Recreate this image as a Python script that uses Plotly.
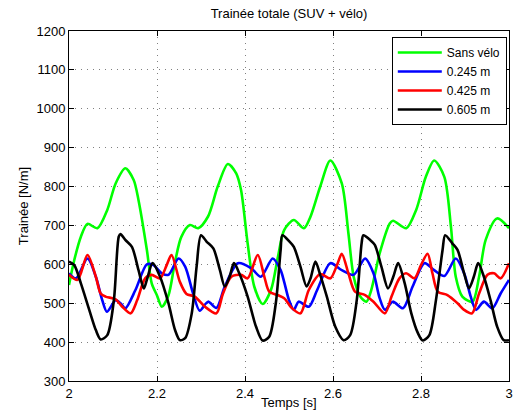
import plotly.graph_objects as go

# ---- data ----
t_green = [2.000, 2.012, 2.027, 2.042, 2.0645, 2.087, 2.106, 2.128, 2.147, 2.158, 2.177, 2.188,
           2.200, 2.211, 2.226, 2.240, 2.255, 2.275, 2.2935, 2.316, 2.338, 2.361, 2.380, 2.391,
           2.406, 2.421, 2.440, 2.459, 2.475, 2.489, 2.511, 2.534, 2.549, 2.571, 2.594, 2.620,
           2.635, 2.647, 2.662, 2.676, 2.687, 2.706, 2.729, 2.7365, 2.7665, 2.789, 2.811, 2.830,
           2.853, 2.868, 2.879, 2.894, 2.917, 2.932, 2.947, 2.973, 3.000]
v_green = [547, 611, 671, 704, 693, 740, 808, 847, 817, 765, 637, 551,
           520, 491, 520, 600, 670, 701, 693, 723, 800, 858, 834, 791,
           654, 543, 498, 534, 620, 688, 714, 693, 723, 800, 867, 808,
           680, 568, 517, 504, 534, 628, 705, 712, 693, 740, 825, 867,
           825, 697, 568, 517, 504, 568, 663, 718, 693]

t_blue = [2.000, 2.016, 2.042, 2.061, 2.075, 2.086, 2.100, 2.106, 2.117, 2.128, 2.151, 2.177,
          2.192, 2.211, 2.226, 2.249, 2.264, 2.282, 2.297, 2.316, 2.335, 2.354, 2.384, 2.414,
          2.436, 2.463, 2.481, 2.489, 2.500, 2.511, 2.522, 2.545, 2.564, 2.594, 2.620, 2.647,
          2.673, 2.692, 2.706, 2.718, 2.736, 2.759, 2.781, 2.808, 2.830, 2.853, 2.879, 2.898,
          2.913, 2.925, 2.943, 2.962, 2.981, 3.000]
v_blue = [577, 564, 615, 568, 510, 478, 500, 508, 500, 487, 534, 600,
          598, 577, 573, 615, 594, 525, 481, 504, 488, 543, 603, 590,
          568, 615, 585, 555, 508, 483, 504, 491, 534, 603, 585, 573,
          615, 577, 513, 483, 504, 487, 543, 603, 585, 570, 615, 577,
          517, 483, 504, 487, 525, 560]

t_red = [2.000, 2.0195, 2.042, 2.061, 2.072, 2.083, 2.106, 2.121, 2.140, 2.155, 2.173, 2.188,
         2.207, 2.222, 2.233, 2.252, 2.267, 2.286, 2.309, 2.335, 2.350, 2.369, 2.391, 2.406,
         2.429, 2.444, 2.455, 2.474, 2.489, 2.507, 2.526, 2.545, 2.571, 2.594, 2.609, 2.620,
         2.635, 2.650, 2.673, 2.692, 2.718, 2.733, 2.751, 2.766, 2.785, 2.800, 2.815, 2.826,
         2.838, 2.860, 2.883, 2.898, 2.916, 2.932, 2.951, 2.966, 2.981, 3.000]
v_red = [573, 560, 624, 568, 525, 517, 510, 491, 474, 508, 564, 573,
         564, 598, 624, 555, 524, 517, 491, 474, 525, 568, 573, 564,
         624, 568, 530, 521, 513, 487, 474, 534, 575, 564, 598, 627,
         577, 530, 521, 504, 474, 517, 564, 577, 564, 598, 627, 577,
         530, 521, 500, 483, 474, 525, 573, 577, 564, 603]

t_black = [2.000, 2.012, 2.027, 2.046, 2.061, 2.072, 2.087, 2.102, 2.113, 2.117, 2.128, 2.143,
           2.158, 2.170, 2.177, 2.190, 2.207, 2.226, 2.241, 2.252, 2.264, 2.279, 2.290, 2.300,
           2.313, 2.328, 2.343, 2.354, 2.365, 2.375, 2.387, 2.406, 2.425, 2.440, 2.455, 2.470,
           2.481, 2.485, 2.500, 2.511, 2.526, 2.540, 2.549, 2.560, 2.571, 2.586, 2.605, 2.624,
           2.639, 2.654, 2.665, 2.669, 2.684, 2.695, 2.710, 2.725, 2.737, 2.748, 2.763, 2.778,
           2.793, 2.804, 2.819, 2.834, 2.849, 2.855, 2.871, 2.883, 2.898, 2.909, 2.920, 2.930,
           2.943, 2.958, 2.973, 2.988, 3.000]
v_black = [607, 598, 551, 483, 431, 407, 418, 508, 671, 678, 663, 645,
           585, 538, 560, 603, 568, 500, 431, 405, 410, 474, 594, 675,
           658, 641, 585, 543, 568, 603, 577, 517, 440, 404, 414, 500,
           637, 675, 660, 645, 594, 543, 564, 607, 573, 517, 440, 405,
           418, 508, 654, 675, 663, 650, 594, 538, 568, 603, 551, 474,
           423, 404, 418, 508, 637, 675, 654, 637, 577, 538, 568, 603,
           568, 508, 440, 405, 405]

series = [
    ("Sans vélo", t_green, v_green, "#00ff00"),
    ("0.245 m", t_blue, v_blue, "#0000ff"),
    ("0.425 m", t_red, v_red, "#ff0000"),
    ("0.605 m", t_black, v_black, "#000000"),
]

FONT = "Liberation Sans, Arial, Helvetica, sans-serif"

fig = go.Figure()
for name, t, v, c in series:
    fig.add_trace(go.Scatter(x=t, y=v, mode="lines", name=name,
                             line=dict(color=c, width=2.6, shape="spline", smoothing=0.8)))

axis_common = dict(
    showline=True, linecolor="black", linewidth=1, mirror="ticks",
    ticks="inside", ticklen=5, tickcolor="black",
    showgrid=True, gridcolor="#808080", griddash="1px,5px", gridwidth=1,
    zeroline=False, tickfont=dict(family=FONT, size=13, color="black"),
)

fig.update_layout(
    width=517, height=419,
    margin=dict(l=69, r=4, t=31, b=38),
    paper_bgcolor="white", plot_bgcolor="white",
    font=dict(family=FONT, size=13, color="black"),
    title=dict(text="Trainée totale (SUV + vélo)", x=0.5, xanchor="center",
               xref="paper", y=0.968, yanchor="middle",
               font=dict(family=FONT, size=13, color="black")),
    xaxis=dict(range=[2, 3], tickvals=[2, 2.2, 2.4, 2.6, 2.8, 3],
               ticktext=["2", "2.2", "2.4", "2.6", "2.8", "3"],
               **axis_common),
    yaxis=dict(range=[300, 1200], tickvals=list(range(300, 1201, 100)),
               title=dict(text="Trainée [N/m]", standoff=4, font=dict(family=FONT, size=13)),
               **axis_common),
    legend=dict(x=0.995, y=0.983, xanchor="right", yanchor="top",
                bgcolor="white", bordercolor="black", borderwidth=1,
                font=dict(family=FONT, size=12, color="black"),
                itemwidth=44, tracegroupgap=0),
    showlegend=True,
    annotations=[dict(text="Temps [s]", x=0.5, xref="paper", y=-0.062, yref="paper",
                      xanchor="center", yanchor="middle", showarrow=False,
                      font=dict(family=FONT, size=13, color="black"))],
)

fig.write_html("out.html")
